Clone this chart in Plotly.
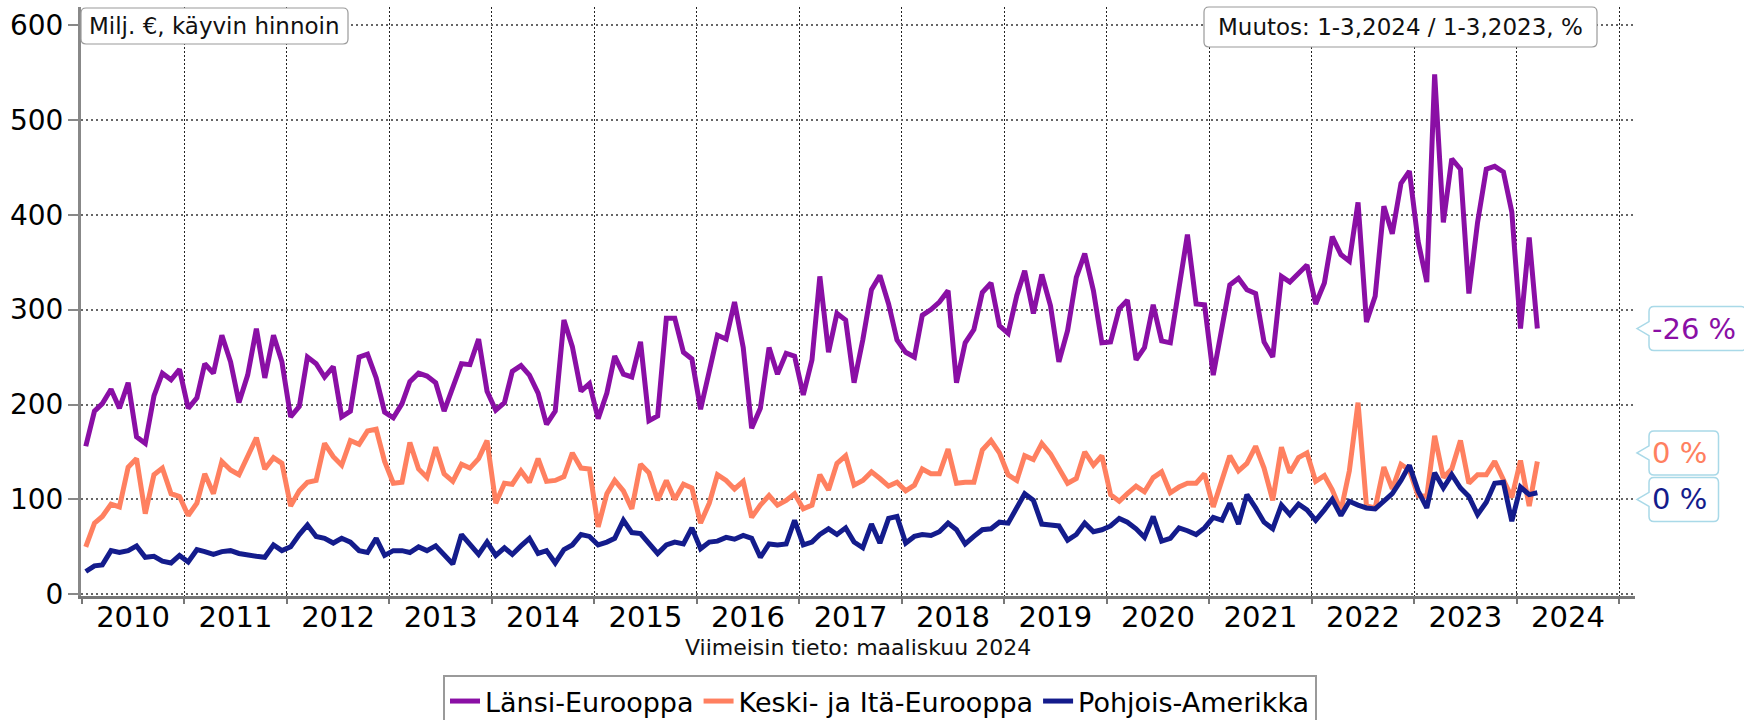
import pandas as pd
import plotly.graph_objects as go

# ---------------- data (Milj. €, monthly, 1/2010 - 3/2024) ----------------
lansi_eurooppa = [
    156, 193, 201, 216, 196, 223, 166, 159, 209, 233, 226, 237,
    196, 207, 243, 233, 273, 245, 202, 231, 280, 228, 273, 245,
    187, 198, 250, 243, 229, 240, 187, 193, 250, 253, 228, 192,
    186, 201, 224, 233, 230, 223, 193, 220, 243, 242, 269, 214,
    194, 202, 235, 241, 231, 212, 179, 193, 289, 261, 214, 222,
    185, 212, 251, 232, 229, 266, 183, 188, 291, 291, 255, 248,
    195, 235, 273, 269, 308, 260, 175, 196, 260, 232, 254, 251,
    210, 247, 335, 255, 296, 289, 223, 268, 321, 336, 306, 268,
    255, 250, 294, 300, 308, 320, 223, 265, 279, 318, 328, 283,
    275, 315, 341, 296, 337, 304, 245, 278, 334, 359, 320, 265,
    266, 301, 310, 247, 260, 305, 267, 265, 326, 379, 306, 305,
    231, 282, 326, 333, 321, 317, 266, 250, 335, 329, 338, 347,
    306, 328, 377, 358, 351, 413, 287, 314, 409, 380, 433, 446,
    372, 329, 548, 392, 459, 448, 317, 392, 448, 451, 445, 403,
    280, 376, 280,
]
keski_ita_eurooppa = [
    50, 75, 82, 95, 92, 134, 143, 85, 126, 133, 106, 103,
    83, 96, 127, 106, 140, 131, 126, 145, 165, 132, 144, 138,
    93, 109, 118, 120, 159, 145, 136, 162, 158, 172, 174, 140,
    117, 118, 160, 132, 123, 155, 127, 119, 137, 133, 143, 162,
    96, 117, 116, 130, 118, 143, 119, 120, 124, 149, 133, 132,
    71, 106, 120, 109, 90, 137, 128, 99, 120, 100, 116, 112,
    75, 96, 126, 120, 111, 119, 81, 94, 104, 94, 99, 106,
    90, 94, 126, 110, 138, 146, 115, 120, 129, 122, 114, 118,
    109, 115, 132, 127, 127, 153, 117, 118, 118, 152, 162, 149,
    126, 120, 146, 142, 159, 148, 132, 117, 122, 150, 136, 146,
    105, 98, 106, 114, 108, 123, 129, 107, 113, 117, 117, 127,
    92, 120, 146, 130, 138, 156, 133, 99, 155, 128, 144, 149,
    119, 125, 110, 88, 130, 202, 93, 91, 134, 111, 137, 131,
    104, 103, 167, 123, 132, 162, 117, 126, 126, 140, 121, 102,
    141, 93, 140,
]
pohjois_amerikka = [
    24, 30, 31, 46, 44, 46, 51, 39, 40, 35, 33, 41,
    34, 47, 45, 42, 45, 46, 43, 41, 40, 39, 52, 46,
    50, 63, 73, 61, 59, 54, 59, 55, 46, 44, 59, 41,
    46, 46, 44, 50, 46, 51, 42, 32, 63, 52, 42, 55,
    41, 49, 42, 51, 59, 43, 46, 33, 47, 52, 63, 61,
    52, 55, 59, 78, 65, 64, 54, 43, 52, 55, 53, 70,
    48, 55, 56, 60, 58, 62, 59, 39, 53, 52, 53, 78,
    52, 55, 63, 69, 63, 70, 55, 49, 74, 54, 80, 82,
    54, 61, 63, 62, 66, 75, 68, 53, 61, 68, 69, 76,
    75, 90, 106, 99, 74, 73, 72, 57, 63, 75, 66, 68,
    72, 80, 76, 69, 60, 82, 56, 59, 70, 67, 63, 70,
    81, 78, 96, 74, 105, 91, 76, 69, 94, 84, 95, 89,
    78, 89, 100, 83, 98, 94, 91, 90, 98, 106, 120, 136,
    109, 91, 128, 112, 126, 112, 103, 84, 97, 117, 118, 77,
    113, 105, 107,
]
series_names = ["Länsi-Eurooppa", "Keski- ja Itä-Eurooppa", "Pohjois-Amerikka"]
change_labels = ["-26 %", "0 %", "0 %"]
unit_label = "Milj. €, käyvin hinnoin"
change_title = "Muutos: 1-3,2024 / 1-3,2023, %"
latest_label = "Viimeisin tieto: maaliskuu 2024"

colors = ["#8A0FA5", "#FF8060", "#141C8C"]
series = [lansi_eurooppa, keski_ita_eurooppa, pohjois_amerikka]

dates = pd.date_range(start="2010-01-01", periods=len(lansi_eurooppa), freq="MS") + pd.Timedelta(days=14)

FONT = "DejaVu Sans"
fig = go.Figure()
for name, vals, col in zip(series_names, series, colors):
    fig.add_trace(go.Scatter(x=dates, y=vals, name=name, mode="lines",
                             line=dict(color=col, width=5)))

# ---------- layout geometry (pixels) ----------
W, H = 1744, 720
ML, MR, MT, MB = 81, 109, 7, 124
PW, PH = W - ML - MR, H - MT - MB
YMIN, YMAX = -1.8, 618.9
upp = (YMAX - YMIN) / PH  # data units per pixel


def px2paper_x(px):
    return (px - ML) / PW


def px2paper_y(py):
    return (H - MB - py) / PH


def rrect_path(x0, x1, y0, y1, rx, ry):
    return (f"M {x0+rx},{y0} L {x1-rx},{y0} Q {x1},{y0} {x1},{y0+ry} "
            f"L {x1},{y1-ry} Q {x1},{y1} {x1-rx},{y1} L {x0+rx},{y1} "
            f"Q {x0},{y1} {x0},{y1-ry} L {x0},{y0+ry} Q {x0},{y0} {x0+rx},{y0} Z")


shapes = []
annotations = []
rpx = 5
rxp, ryp = rpx / PW, rpx / PH

# top-left and top-right info boxes
for (bx0, bx1, by0, by1, txt) in [(81, 348, 8, 44, unit_label),
                                   (1204, 1597, 7, 47, change_title)]:
    x0, x1 = px2paper_x(bx0), px2paper_x(bx1)
    y0, y1 = px2paper_y(by1), px2paper_y(by0)
    shapes.append(dict(type="path", xref="paper", yref="paper",
                       path=rrect_path(x0, x1, y0, y1, rxp, ryp),
                       fillcolor="white", line=dict(color="#9a9a9a", width=1.2), layer="above"))
    annotations.append(dict(text=txt, xref="paper", yref="paper", x=(x0 + x1) / 2, y=(y0 + y1) / 2,
                            xanchor="center", yanchor="middle", showarrow=False,
                            font=dict(family=FONT, size=23, color="#111")))

# callout bubbles at right edge
tip_offsets = [0, 9, -7]          # data-unit shifts to keep bubbles apart
box_right_px = [1746, 1718.5, 1718.5]
xt, xl = px2paper_x(1637), px2paper_x(1649)
half_h, notch_h = 22 * upp, 7 * upp
for vals, col, lab, off, brx in zip(series, colors, change_labels, tip_offsets, box_right_px):
    yc = vals[-1] + off
    xr = px2paper_x(brx)
    ry = rpx * upp
    p = (f"M {xt},{yc} L {xl},{yc+notch_h} L {xl},{yc+half_h-ry} Q {xl},{yc+half_h} {xl+rxp},{yc+half_h} "
         f"L {xr-rxp},{yc+half_h} Q {xr},{yc+half_h} {xr},{yc+half_h-ry} L {xr},{yc-half_h+ry} "
         f"Q {xr},{yc-half_h} {xr-rxp},{yc-half_h} L {xl+rxp},{yc-half_h} Q {xl},{yc-half_h} {xl},{yc-half_h+ry} "
         f"L {xl},{yc-notch_h} Z")
    shapes.append(dict(type="path", xref="paper", yref="y", path=p, fillcolor="white",
                       line=dict(color="#a9d9e8", width=1.5), layer="above"))
    annotations.append(dict(text=lab, xref="paper", yref="y", x=px2paper_x(1652), y=yc,
                            xanchor="left", yanchor="middle", showarrow=False,
                            borderpad=0, borderwidth=0,
                            font=dict(family=FONT, size=29, color=col)))

annotations.append(dict(text=latest_label, xref="paper", yref="paper", x=0.5, y=px2paper_y(647),
                        xanchor="center", yanchor="middle", showarrow=False,
                        font=dict(family=FONT, size=22, color="#111")))

fig.update_layout(
    width=W, height=H,
    margin=dict(l=ML, r=MR, t=MT, b=MB, pad=0, autoexpand=False),
    paper_bgcolor="white", plot_bgcolor="white",
    font=dict(family=FONT, size=27, color="#000"),
    showlegend=True,
    legend=dict(orientation="h", x=px2paper_x(880), xanchor="center",
                y=px2paper_y(675), yanchor="top",
                bordercolor="#9a9a9a", borderwidth=2, bgcolor="white",
                font=dict(family=FONT, size=27, color="#000"),
                itemwidth=30, tracegroupgap=0),
    shapes=shapes, annotations=annotations,
    hovermode=False,
)
fig.update_xaxes(type="date", range=["2009-12-29", "2025-02-26"], automargin=False,
                 tick0="2010-01-01", dtick="M12", tickformat="%Y", ticklabelmode="period",
                 showgrid=True, gridcolor="#222", gridwidth=1, griddash="2px,2px",
                 showline=True, linecolor="#777", linewidth=3,
                 ticks="outside", ticklen=5, tickcolor="#777", tickwidth=1.5,
                 ticklabelstandoff=-12,
                 tickfont=dict(family=FONT, size=29, color="#000"), zeroline=False)
fig.update_yaxes(range=[YMIN, YMAX], tick0=0, dtick=100, automargin=False,
                 showgrid=True, gridcolor="#666", gridwidth=1.5, griddash="2px,3px",
                 showline=True, linecolor="#888", linewidth=3,
                 ticks="outside", ticklen=10, tickcolor="#888", tickwidth=1.5,
                 ticklabelstandoff=-1,
                 tickfont=dict(family=FONT, size=28, color="#000"), zeroline=False)

# remove the browser's default 8px page margin so the figure sits at the window origin
fig.write_html("out.html", config={"displayModeBar": False},
               post_script="document.body.style.margin='0';")
